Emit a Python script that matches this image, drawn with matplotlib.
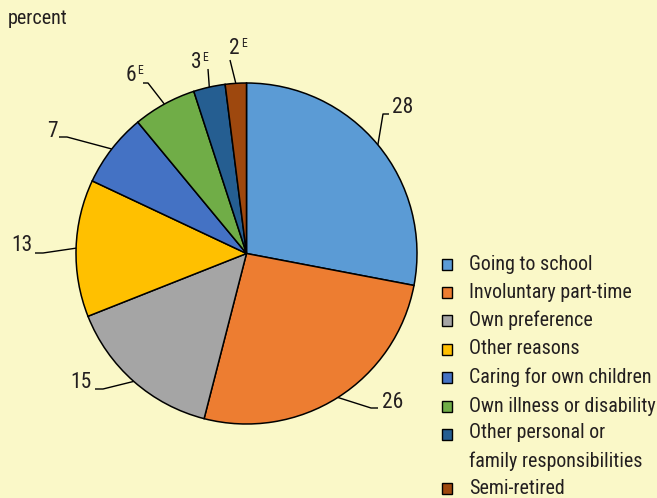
import matplotlib
matplotlib.use("Agg")
import matplotlib.pyplot as plt
import numpy as np
from matplotlib.patches import Rectangle

categories = ["Going to school", "Involuntary part-time", "Own preference", "Other reasons",
              "Caring for own children", "Own illness or disability",
              "Other personal or\nfamily responsibilities", "Semi-retired"]
values = [28, 26, 15, 13, 7, 6, 3, 2]
value_labels = ["28", "26", "15", "13", "7", "6", "3", "2"]
estimate_flags = [False, False, False, False, False, True, True, True]
colors = ["#5B9BD5", "#ED7D31", "#A5A5A5", "#FFC000", "#4472C4", "#70AD47", "#255E91", "#9E480E"]

plt.rcParams['font.family'] = ['Roboto Condensed', 'Archivo Narrow', 'Liberation Sans', 'DejaVu Sans']

BG = "#FAF8C8"
TXT = "#231F20"
W, H = 657, 498
fig = plt.figure(figsize=(W / 100, H / 100), dpi=100, facecolor=BG)
ax = fig.add_axes([0, 0, 1, 1])
ax.set_facecolor(BG)

cx, cy, R = 246.5, H - 253.5, 170.5
wedges, _ = ax.pie(values, colors=colors, startangle=90, counterclock=False,
                   center=(cx, cy), radius=R,
                   wedgeprops=dict(edgecolor="black", linewidth=1.1))
ax.set_xlim(0, W)
ax.set_ylim(0, H)
ax.set_aspect('equal')
ax.axis('off')

# label layout (pixel coords, top-origin): elbow point, end point, text center
elbows = [(383, 114), (371, 408), (103, 389), (43, 253), (67, 137), (148, 83), (208, 69), (230, 60)]
ends = [(389, 114), (378, 408), (95, 389), (35, 253), (59, 137), (143, 83), (208, 69), (230, 60)]
text_pos = [(403, 107), (393, 402), (81, 383), (22, 245), (52, 131), (133, 75), (198, 62), (237, 48)]

for w, lab, est, el, en, tp in zip(wedges, value_labels, estimate_flags, elbows, ends, text_pos):
    ang = np.deg2rad((w.theta1 + w.theta2) / 2)
    ax_pt = (cx + R * np.cos(ang), cy + R * np.sin(ang))
    xs = [ax_pt[0], el[0], en[0]]
    ys = [ax_pt[1], H - el[1], H - en[1]]
    ax.plot(xs, ys, color="black", lw=1.0, solid_capstyle='butt')
    if est:
        ax.text(tp[0] + 3, H - tp[1], lab, fontsize=15.5, ha="right", va="center", color=TXT)
        ax.text(tp[0] + 4, H - tp[1] + 5, "E", fontsize=8.5, ha="left", va="center", color=TXT)
    else:
        ax.text(tp[0], H - tp[1], lab, fontsize=15.5, ha="center", va="center", color=TXT)

ax.text(8, H - 18, "percent", fontsize=14.5, ha="left", va="center", color=TXT)

# legend
leg_y = [264, 292, 320, 349, 377, 406, 434, 488]
for c, name, y in zip(colors, categories, leg_y):
    ax.add_patch(Rectangle((441.5, H - y - 5.5), 10.5, 10.5, facecolor=c, edgecolor="black", lw=1.0))
    if "\n" in name:
        ax.text(469, H - y + 11, name, fontsize=14.4, ha="left", va="top", color=TXT, linespacing=1.6)
    else:
        ax.text(469, H - y, name, fontsize=14.4, ha="left", va="center", color=TXT)

fig.savefig("out.png", dpi=100, facecolor=BG)
